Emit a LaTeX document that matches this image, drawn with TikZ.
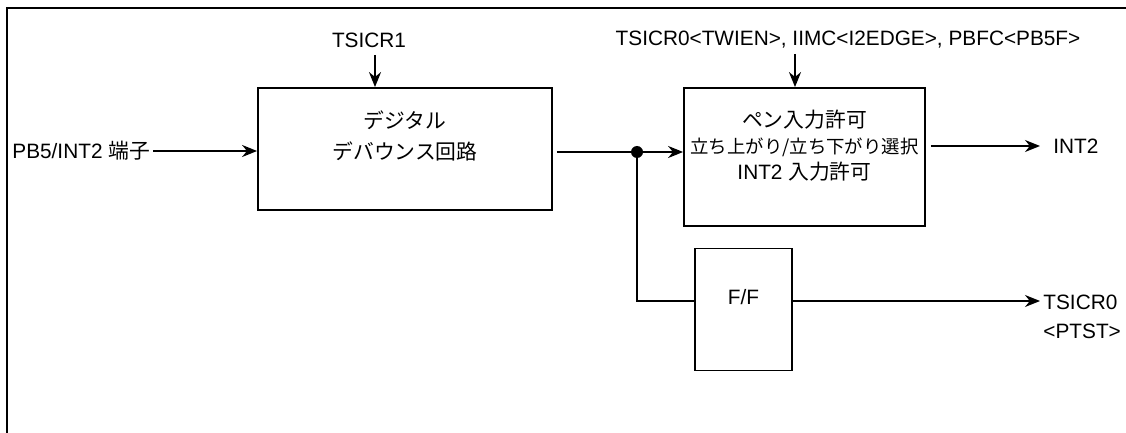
\documentclass[tikz,border=0pt]{standalone}
\usepackage{fontspec}
\setmainfont{Liberation Sans}
\newfontfamily\jp{Noto Sans CJK JP}
\usetikzlibrary{arrows.meta}

\begin{document}
\begin{tikzpicture}[x=0.5pt, y=-0.5pt,
        bloque/.style={draw, line width=0.9pt, inner sep=0pt},
        etiq/.style={inner sep=1.5pt, font=\fontsize{10.4}{12.5}\selectfont},
        flecha/.style={-{Stealth[length=7.5pt, width=6pt]}, line width=0.9pt},
        linea/.style={line width=0.9pt}]
                                \useasboundingbox (0,0) rectangle (1126,433);

                                % Marco
                                \draw[line width=1pt] (7,433) -- (7,8) -- (1126,8);

                                % Bloques
                                \node[bloque, minimum width=147pt, minimum height=61pt,
                                    label={[etiq, align=center, font=\fontsize{10.4}{15.5}\selectfont, yshift=6.75pt]center:{\jp デジタル}\\{\jp デバウンス回路}}] (rebote) at (405,149) {};
                                \node[bloque, minimum width=120.5pt, minimum height=69pt,
                                    label={[etiq, align=center, font=\fontsize{10.4}{13}\selectfont, yshift=5.5pt]center:{\jp ペン入力許可}\\{\fontsize{9.2}{13}\selectfont\jp 立ち上がり/立ち下がり選択}\\INT2 {\jp 入力許可}}] (pen) at (804.5,157) {};
                                \node[bloque, minimum width=48.5pt, minimum height=61pt,
                                    label={[etiq, yshift=6.25pt]center:F/F}] (ff) at (743.5,309.5) {};

                                % Etiquetas
                                \node[etiq, anchor=west] (pin) at (9,151) {PB5/INT2 {\jp 端子}};
                                \node[etiq] (tsicr1) at (369,40) {TSICR1};
                                \node[etiq] (ctrl) at (848,40) {TSICR0<TWIEN>, IIMC<I2EDGE>, PBFC<PB5F>};
                                \node[etiq, anchor=west] (int2) at (1050,146) {INT2};
                                \node[etiq, anchor=west, align=left, font=\fontsize{10.4}{14.5}\selectfont] (ptst) at (1040,316.5) {TSICR0\\<PTST>};

                                % Punto de union
                                \node[circle, fill, inner sep=0pt, minimum size=6pt] (nodo) at (637,152) {};

                                % Conexiones
                                \draw[flecha] (pin.east) -- (pin.east -| rebote.west);
                                \draw[flecha, shorten <=2pt] ([xshift=-15pt]rebote.north |- tsicr1.south) -- ([xshift=-15pt]rebote.north);
                                \draw[flecha, shorten <=1pt] ([xshift=-4.75pt]pen.north |- ctrl.south) -- ([xshift=-4.75pt]pen.north);
                                \draw[linea, shorten <=2pt] (rebote.east |- nodo) -- (nodo);
                                \draw[flecha] (nodo) -- (nodo -| pen.west);
                                \draw[linea] (nodo) |- ([yshift=4.25pt]ff.west);
                                \draw[flecha, shorten <=2.5pt, shorten >=5pt] ([yshift=5.5pt]pen.east) -- ([yshift=5.5pt]pen.east -| int2.west);
                                \draw[flecha] ([yshift=4.25pt]ff.east) -- ([yshift=4.25pt]ff.east -| ptst.west);
                            \end{tikzpicture}
\end{document}
